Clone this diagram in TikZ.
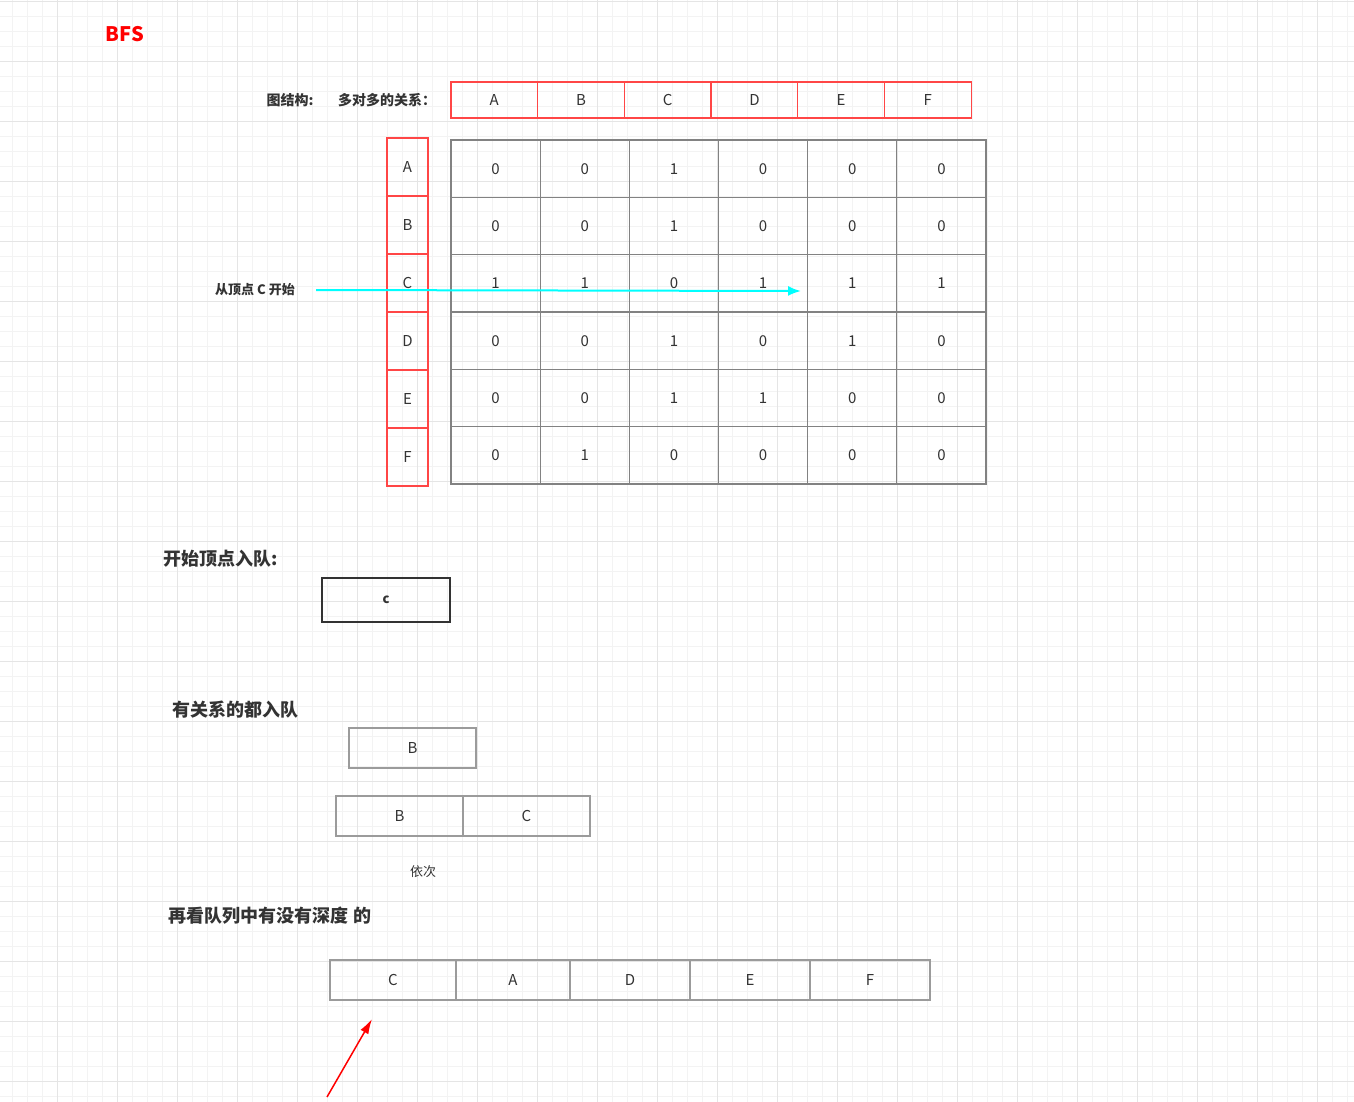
\documentclass[tikz,border=0pt]{standalone}
\usepackage{fontspec}
\setmainfont{Noto Sans CJK SC}
\usetikzlibrary{positioning,arrows.meta}
\definecolor{gridminor}{RGB}{243,243,243}
\definecolor{gridmajor}{RGB}{229,229,229}
\definecolor{redline}{RGB}{255,70,70}
\definecolor{cellline}{RGB}{130,130,130}
\definecolor{txt}{RGB}{51,51,51}
\definecolor{aqua}{RGB}{0,255,255}
\begin{document}
\begin{tikzpicture}[x=1pt,y=-1pt,
  every node/.style={text=txt,font=\fontsize{15}{18}\selectfont,inner sep=0pt,outer sep=0pt},
  hcell/.style={draw=redline,line width=1.3pt,minimum width=86.7pt,minimum height=36pt},
  vcell/.style={draw=redline,line width=1.3pt,minimum width=41pt,minimum height=58pt},
  mcell/.style={draw=cellline,line width=1.1pt,minimum width=89.17pt,minimum height=57.33pt},
  qcell/.style={draw=cellline!80,line width=1.2pt,minimum height=40pt},
  title/.style={font=\fontsize{18}{20}\selectfont\bfseries},
  note/.style={font=\fontsize{13}{16}\selectfont\bfseries}]

  % background and paper grid
  \fill[white] (0,0) rectangle (1354,1102);
  \useasboundingbox (0,0) rectangle (1354,1102);
  \foreach \x in {12,27,...,1354} \draw[gridminor,line width=0.8pt] (\x,0) -- (\x,1102);
  \foreach \y in {1,16,...,1102} \draw[gridminor,line width=0.8pt] (0,\y) -- (1354,\y);
  \foreach \x in {57,117,...,1354} \draw[gridmajor,line width=0.9pt] (\x,0) -- (\x,1102);
  \foreach \y in {1,61,...,1102} \draw[gridmajor,line width=0.9pt] (0,\y) -- (1354,\y);

  \node[text=red,font=\fontsize{20}{24}\selectfont\bfseries] (bfs) at (125,34) {BFS};

  % header row
  \node[note,font=\fontsize{14}{16}\selectfont\bfseries] (struct) at (290,100) {图结构:};
  \node[note,font=\fontsize{14}{16}\selectfont\bfseries] (rel) at (387,100) {多对多的关系：};
  \node[hcell] (hA) at (494.3,100) {A};
  \node[hcell,right=0pt of hA] (hB) {B};
  \node[hcell,right=0pt of hB] (hC) {C};
  \node[hcell,right=0pt of hC] (hD) {D};
  \node[hcell,right=0pt of hD] (hE) {E};
  \node[hcell,right=0pt of hE] (hF) {F};

  % row header
  \node[vcell] (vA) at (407.5,167) {A};
  \node[vcell,below=0pt of vA] (vB) {B};
  \node[vcell,below=0pt of vB] (vC) {C};
  \node[vcell,below=0pt of vC] (vD) {D};
  \node[vcell,below=0pt of vD] (vE) {E};
  \node[vcell,below=0pt of vE] (vF) {F};

  % adjacency matrix
  \foreach \row [count=\i] in {{0,0,1,0,0,0},{0,0,1,0,0,0},{1,1,0,1,1,1},
                               {0,0,1,0,1,0},{0,0,1,1,0,0},{0,1,0,0,0,0}}
    \foreach \v [count=\j] in \row
      \node[mcell] (m\i\j) at ({451+89.17*(\j-0.5)},{140+57.33*(\i-0.5)}) {\v};

  \node[note] (start) at (255,290) {从顶点 C 开始};
  \coordinate (sA) at (316,290);
  \coordinate (sB) at (801,291);
  \draw[aqua,line width=2pt,-{Latex[length=13pt,width=10pt]}] (sA) -- (sB);

  % queue
  \node[title] (t1) at (221,559) {开始顶点入队:};
  \node[draw=txt,line width=2pt,minimum width=128pt,minimum height=44pt,
        font=\fontsize{13}{16}\selectfont\bfseries] (q0) at (386,600) {c};

  \node[title] (t2) at (235,710) {有关系的都入队};
  \node[qcell,minimum width=127pt] (q1) at (412.5,748) {B};
  \node[qcell,minimum width=127pt] (q2b) at (399.5,816) {B};
  \node[qcell,minimum width=127pt,right=0pt of q2b] (q2c) {C};
  \node[note,font=\fontsize{13}{16}\selectfont] (seq) at (423,872) {依次};

  \node[title] (t3) at (270,916) {再看队列中有没有深度 的};
  \node[qcell,minimum width=126pt] (qC) at (393,980) {C};
  \node[qcell,minimum width=114pt,right=0pt of qC] (qA) {A};
  \node[qcell,minimum width=120pt,right=0pt of qA] (qD) {D};
  \node[qcell,minimum width=120pt,right=0pt of qD] (qE) {E};
  \node[qcell,minimum width=120pt,right=0pt of qE] (qF) {F};

  \coordinate (pA) at (327,1097);
  \coordinate (pB) at (372,1019);
  \draw[red,line width=1.5pt,-{Latex[length=15pt,width=9pt]}] (pA) -- (pB);
\end{tikzpicture}
\end{document}
